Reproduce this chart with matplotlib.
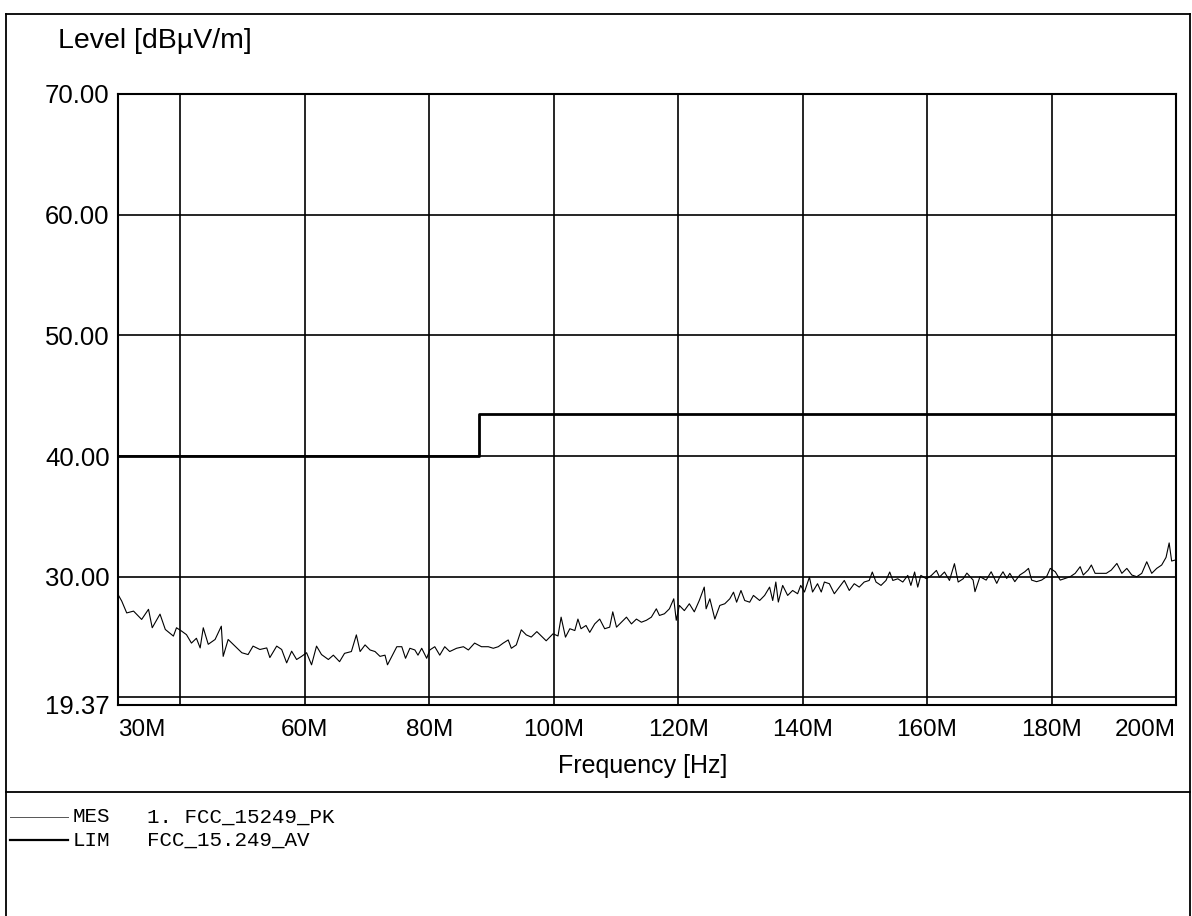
import matplotlib
matplotlib.use("Agg")
import matplotlib.pyplot as plt
from matplotlib.lines import Line2D

plt.rcParams['font.family'] = ['Liberation Sans', 'DejaVu Sans']

# ---- data ----
freq_mhz = [30.0, 30.6, 31.4, 32.5, 33.8, 34.9, 35.5, 36.75, 37.6, 38.9, 39.4, 40.2, 41.0, 41.8, 42.6,
            43.2, 43.7, 44.5, 45.6, 46.6, 46.9, 47.7, 48.8, 49.9, 50.9, 51.7, 52.8, 53.9, 54.4, 55.5,
            56.3, 57.1, 57.9, 58.7, 59.5, 60.3, 61.1, 61.9, 62.7, 63.8,
            64.6, 65.6, 66.4, 67.5, 68.3, 68.9, 69.7, 70.5, 71.3, 72.1, 72.9, 73.3, 74.0, 74.8, 75.6,
            76.2, 76.9, 77.7, 78.2, 78.8, 79.6, 80.1, 80.9, 81.7, 82.5, 83.3, 84.4, 85.5, 86.3, 87.3,
            88.4, 89.5, 90.3, 91.1, 91.9, 92.7, 93.2, 94.0, 94.8, 95.6, 96.4, 97.3,
            98.0, 98.8, 99.9, 100.7, 101.2, 101.9, 102.6, 103.4, 103.9, 104.4, 105.2, 105.8, 106.6,
            107.4, 108.2, 109.0, 109.5, 110.1, 110.9, 111.7, 112.5, 113.3, 114.1, 114.9, 115.7, 116.5,
            117.0, 117.8, 118.6, 119.3, 119.7, 120.2, 121.0, 121.8, 122.6, 123.4, 124.2, 124.5, 125.1,
            125.9, 126.7, 127.5, 128.3, 128.9, 129.4, 130.1, 130.7, 131.5, 132.1,
            133.1, 133.9, 134.7, 135.2, 135.7, 136.1, 136.8, 137.6, 138.4, 139.2, 139.7, 140.3, 141.1,
            141.6, 142.4, 143.0, 143.5, 144.3, 145.1, 145.9, 146.7, 147.5, 148.3, 149.1, 149.9, 150.7,
            151.2, 151.8, 152.6, 153.4, 154.0, 154.5, 155.3, 156.1, 156.9, 157.4, 158.0, 158.5, 159.0,
            159.9, 160.7, 161.5, 162.0, 162.8, 163.6, 164.4, 165.0, 165.8,
            166.4, 167.4, 167.7, 168.5, 169.5, 170.3, 171.2, 171.7, 172.2, 172.8, 173.3, 174.1, 174.9,
            175.7, 176.3, 176.8, 177.6, 178.4, 179.2, 179.8, 180.6, 181.4, 182.2, 183.0, 183.8, 184.6,
            185.1, 185.9, 186.4, 187.0, 187.8, 188.8, 189.6, 190.5, 191.3, 192.1, 192.9, 193.7, 194.5,
            195.3, 196.1, 196.9, 197.7, 198.4, 198.9, 199.3, 200.0]
level_db = [28.53, 27.98, 27.0, 27.15, 26.46, 27.3, 25.77, 26.9, 25.63, 25.08, 25.77, 25.5, 25.2, 24.5, 24.9,
            24.1, 25.77, 24.4, 24.8, 25.9, 23.4, 24.8, 24.25, 23.7, 23.55, 24.25, 23.97, 24.1, 23.3, 24.25,
            23.97, 22.86, 23.83, 23.14, 23.4, 23.7, 22.7, 24.25, 23.55, 23.14,
            23.5, 22.96, 23.65, 23.8, 25.18, 23.8, 24.35, 23.93, 23.8, 23.4, 23.5, 22.7, 23.4, 24.2, 24.2,
            23.24, 24.07, 23.93, 23.5, 24.07, 23.24, 23.93, 24.2, 23.5, 24.2, 23.8, 24.07, 24.2, 23.93, 24.5,
            24.2, 24.2, 24.07, 24.2, 24.5, 24.76, 24.07, 24.35, 25.6, 25.18, 25.0, 25.45,
            25.09, 24.69, 25.27, 25.09, 26.65, 24.99, 25.69, 25.54, 26.49, 25.69, 25.96, 25.39, 26.09,
            26.49, 25.69, 25.82, 27.09, 25.82, 26.23, 26.65, 26.09, 26.49, 26.23, 26.39, 26.65, 27.34,
            26.79, 26.93, 27.34, 28.17, 26.39, 27.62, 27.19, 27.76, 27.09, 28.03, 29.14, 27.34, 28.17,
            26.49, 27.62, 27.76, 28.17, 28.72, 27.89, 28.86, 28.03, 27.89, 28.45,
            28.03, 28.45, 29.14, 28.03, 29.56, 27.9, 29.28, 28.45, 28.86, 28.59, 29.28, 28.73, 29.97,
            28.73, 29.42, 28.73, 29.56, 29.42, 28.59, 29.14, 29.69, 28.86, 29.42, 29.14, 29.56, 29.69,
            30.39, 29.56, 29.28, 29.69, 30.39, 29.69, 29.83, 29.56, 30.11, 29.28, 30.39, 29.14, 30.11,
            29.83, 30.11, 30.52, 29.97, 30.39, 29.69, 31.08, 29.56, 29.83,
            30.3, 29.72, 28.76, 30.0, 29.72, 30.41, 29.45, 30.0, 30.41, 29.86, 30.28, 29.59, 30.14,
            30.41, 30.69, 29.72, 29.59, 29.72, 30.0, 30.69, 30.41, 29.72, 29.86, 30.0, 30.28, 30.83,
            30.14, 30.55, 30.97, 30.28, 30.28, 30.28, 30.55, 31.1, 30.28, 30.69, 30.14, 30.0, 30.28,
            31.24, 30.28, 30.69, 30.97, 31.6, 32.8, 31.3, 31.4]

lim_freq = [30, 88, 88, 200]
lim_level = [40, 40, 43.5, 43.5]

x_ticks = [30, 60, 80, 100, 120, 140, 160, 180, 200]
x_tick_labels = ['30M', '60M', '80M', '100M', '120M', '140M', '160M', '180M', '200M']
y_ticks = [19.37, 30, 40, 50, 60, 70]
x_grid = [40, 60, 80, 100, 120, 140, 160, 180]
y_grid = [20, 30, 40, 50, 60]

legend_rows = [('MES', '1. FCC_15249_PK'), ('LIM', 'FCC_15.249_AV')]

# ---- figure ----
W, H = 1192, 916
fig = plt.figure(figsize=(W / 100, H / 100), dpi=100)

def fx(px):
    return px / W

def fy(py):
    return 1 - py / H

ax_l, ax_r, ax_t, ax_b = 118, 1176, 94, 705
ax = fig.add_axes([fx(ax_l), fy(ax_b), (ax_r - ax_l) / W, (ax_b - ax_t) / H])
ax.set_xlim(30, 200)
ax.set_ylim(19.37, 70)

for g in x_grid:
    ax.axvline(g, color='black', lw=1.2, zorder=1)
for g in y_grid:
    ax.axhline(g, color='black', lw=1.2, zorder=1)

ax.plot(lim_freq, lim_level, color='black', lw=2.0, zorder=3)
ax.plot(freq_mhz, level_db, color='black', lw=0.8, zorder=4)

for s in ax.spines.values():
    s.set_linewidth(1.5)
    s.set_color('black')

ax.set_xticks(x_ticks)
ax.set_xticklabels(x_tick_labels, fontsize=17.5)
ax.set_yticks(y_ticks)
ax.set_yticklabels([f'{v:.2f}' for v in y_ticks], fontsize=18.5)
ax.tick_params(axis='both', length=0)
ax.tick_params(axis='x', pad=10)
ax.tick_params(axis='y', pad=6)
xl = ax.get_xticklabels()
xl[0].set_ha('left')
xl[-1].set_ha('right')

fig.text(fx(643), fy(766), 'Frequency [Hz]', fontsize=18, ha='center', va='center')
fig.text(fx(58), fy(41), 'Level [dBµV/m]', fontsize=20.5, ha='left', va='center')

# outer frame
frame_kw = dict(color='black', lw=1.3, transform=fig.transFigure)
fig.add_artist(Line2D([fx(6), fx(1190)], [fy(14), fy(14)], **frame_kw))
fig.add_artist(Line2D([fx(6), fx(6)], [fy(14), fy(916)], **frame_kw))
fig.add_artist(Line2D([fx(1190), fx(1190)], [fy(14), fy(916)], **frame_kw))
fig.add_artist(Line2D([fx(6), fx(1190)], [fy(792), fy(792)], **frame_kw))

# legend block
row_y = [817, 840]
styles = [dict(color='#555555', lw=0.7), dict(color='black', lw=1.6)]
for (tag, name), yy, st in zip(legend_rows, row_y, styles):
    fig.add_artist(Line2D([fx(10), fx(68)], [fy(yy), fy(yy)], transform=fig.transFigure, **st))
    fig.text(fx(73), fy(yy), tag, fontsize=15, family='Liberation Mono', ha='left', va='center')
    fig.text(fx(147), fy(yy), name, fontsize=15, family='Liberation Mono', ha='left', va='center')

fig.savefig('out.png', dpi=100, facecolor='white')
